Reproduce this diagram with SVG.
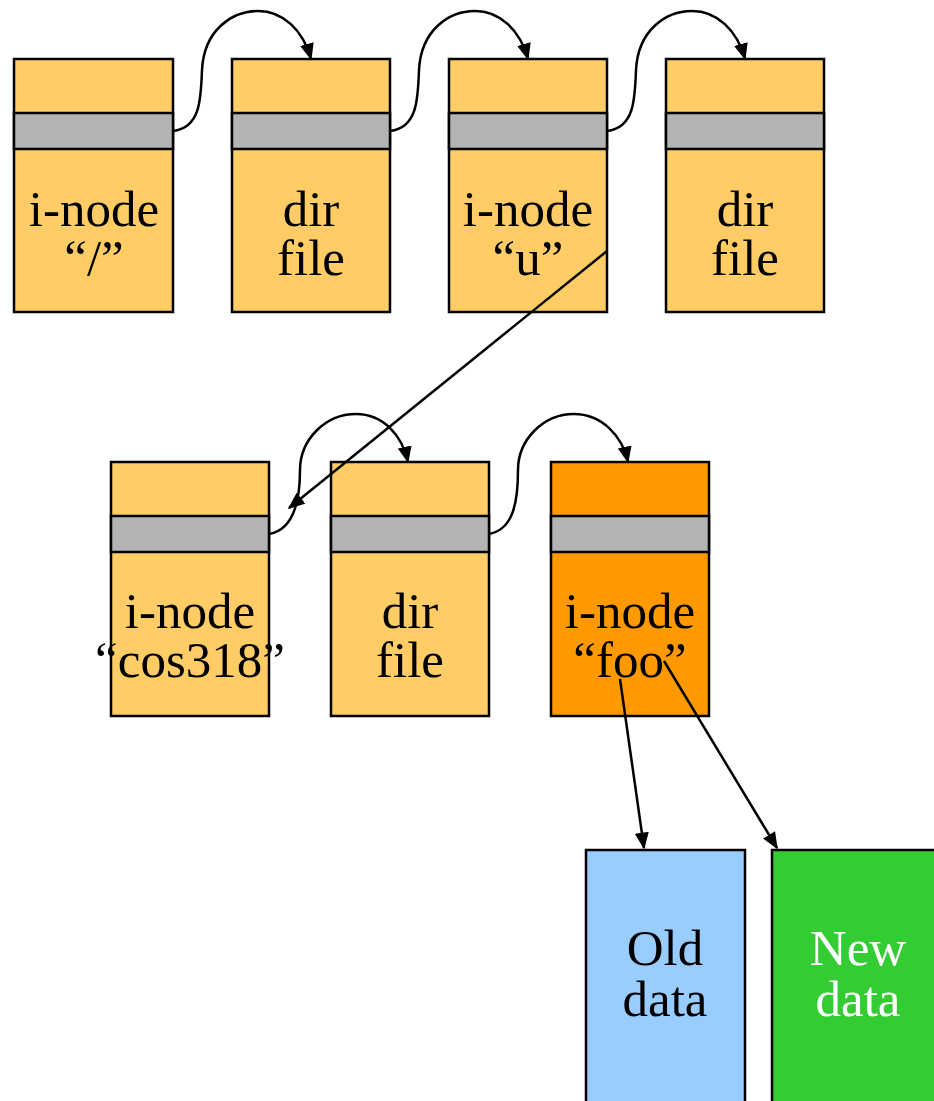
<svg xmlns="http://www.w3.org/2000/svg" width="934" height="1101" viewBox="0 0 934 1101">
<style>
.box{stroke:#000;stroke-width:2.5}
.y{fill:#FFCC66}
.o{fill:#FF9900}
.g{fill:#B3B3B3;stroke:#000;stroke-width:2.5}
.b{fill:#99CCFF}
.gr{fill:#33CC33}
text{font-family:"Liberation Serif","Times New Roman",serif;font-size:51px;text-anchor:middle;fill:#000}
.w{fill:#fff}
.c{fill:none;stroke:#000;stroke-width:2.5}
</style>
<defs>
<marker id="a" viewBox="0 0 12 10" refX="11" refY="5" markerWidth="17" markerHeight="14" markerUnits="userSpaceOnUse" orient="auto">
<path d="M0,0 L12,5 L0,10 z" fill="#000"/>
</marker>
</defs>
<rect width="934" height="1101" fill="#fff"/>
<g id="n1"><rect class="box y" x="14" y="59" width="159" height="253"/><rect class="g" x="14" y="113" width="159" height="36"/><text x="94" y="226">i-node</text><text x="94" y="275">“/”</text></g>
<g id="n2"><rect class="box y" x="232" y="59" width="158" height="253"/><rect class="g" x="232" y="113" width="158" height="36"/><text x="311" y="226">dir</text><text x="311" y="275">file</text></g>
<g id="n3"><rect class="box y" x="449" y="59" width="158" height="253"/><rect class="g" x="449" y="113" width="158" height="36"/><text x="528" y="226">i-node</text><text x="528" y="275">“u”</text></g>
<g id="n4"><rect class="box y" x="666" y="59" width="158" height="253"/><rect class="g" x="666" y="113" width="158" height="36"/><text x="745" y="226">dir</text><text x="745" y="275">file</text></g>
<g id="n5"><rect class="box y" x="111" y="462" width="158" height="254"/><rect class="g" x="111" y="516" width="158" height="36"/><text x="190" y="628">i-node</text><text x="190" y="677">“cos318”</text></g>
<g id="n6"><rect class="box y" x="331" y="462" width="158" height="254"/><rect class="g" x="331" y="516" width="158" height="36"/><text x="410" y="628">dir</text><text x="410" y="677">file</text></g>
<g id="n7"><rect class="box o" x="551" y="462" width="158" height="254"/><rect class="g" x="551" y="516" width="158" height="36"/><text x="630" y="628">i-node</text><text x="630" y="677">“foo”</text></g>
<g id="n8"><rect class="box b" x="586" y="850" width="159" height="260"/><text x="665" y="965">Old</text><text x="665" y="1016">data</text></g>
<g id="n9"><rect class="box gr" x="772" y="850" width="170" height="260"/><text class="w" x="858" y="965">New</text><text class="w" x="858" y="1016">data</text></g>
<g id="connectors">
<path class="c" marker-end="url(#a)" d="M173,131 C200,128 201,100 202,70 C204,30 232,11 258,11 C283,11 303,30 311,59"/>
<path class="c" marker-end="url(#a)" d="M390,131 C417,128 418,100 419,70 C421,30 449,11 475,11 C500,11 520,30 528,59"/>
<path class="c" marker-end="url(#a)" d="M607,131 C634,128 635,100 636,70 C638,30 666,11 692,11 C717,11 737,30 745,59"/>
<path class="c" marker-end="url(#a)" d="M269,534 C292,530 300,505 300,470 C300,440 325,414 356,414 C383,414 402,435 408,462"/>
<path class="c" marker-end="url(#a)" d="M489,534 C512,530 518,505 518,470 C518,440 543,414 574,414 C601,414 622,435 628,462"/>
<path class="c" marker-end="url(#a)" d="M607,251 L289,508"/>
<path class="c" marker-end="url(#a)" d="M620,679 L644,848"/>
<path class="c" marker-end="url(#a)" d="M664,661 L777,848"/>
</g>
</svg>
